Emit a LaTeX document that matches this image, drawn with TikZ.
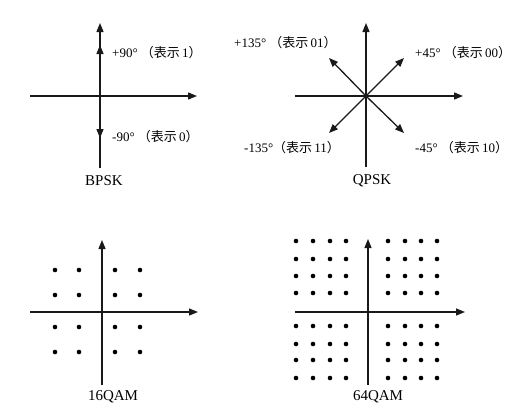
\documentclass[tikz,border=0pt]{standalone}
\usepackage{fontspec}
\setmainfont{Liberation Serif}
\newfontfamily\cjk{Noto Sans CJK SC}
\usetikzlibrary{arrows.meta}
\begin{document}
\begin{tikzpicture}[x=1pt,y=-1pt,
  axis/.style={line width=1.3pt,draw=black!90,-{Triangle[length=9pt,width=7pt]}},
  vec/.style={line width=1.3pt,draw=black!90,-{Triangle[length=9pt,width=7pt]}},
  plain/.style={line width=1.3pt,draw=black!90},
  ang/.style={font=\fontsize{13}{15}\selectfont,anchor=west,inner sep=0pt},
  ttl/.style={font=\fontsize{15}{17}\selectfont,inner sep=0pt},
  dot/.style={fill=black,circle,inner sep=0pt,minimum size=4.6pt}]
\useasboundingbox (0,0) rectangle (526,416);
\fill[white] (0,0) rectangle (526,416);

% ---------- BPSK ----------
\coordinate (bo) at (100,96);
\coordinate (bt) at (100,23);
\coordinate (bb) at (100,168);
\coordinate (bl) at (30,96);
\coordinate (br) at (197,96);
\coordinate (bup) at (100,45);
\coordinate (bdn) at (100,138);
\draw[plain] (bb) -- (bo);
\draw[axis] (bo) -- (bt);
\draw[axis] (bl) -- (br);
\draw[vec] (bo) -- (bup);
\draw[vec] (bo) -- (bdn);
\node[ang] (b1) at (112,53) {+90°\ {\cjk （表示}\,1{\cjk ）}};
\node[ang] (b0) at (112,137) {-90°\ {\cjk （表示}\,0{\cjk ）}};
\node[ttl] (bpsk) at (104,181) {BPSK};

% ---------- QPSK ----------
\coordinate (qo) at (366,96);
\coordinate (qt) at (366,23);
\coordinate (qb) at (366,167);
\coordinate (ql) at (295,96);
\coordinate (qr) at (463,96);
\coordinate (q45) at (404,58);
\coordinate (q135) at (329,58);
\coordinate (qm135) at (329,133);
\coordinate (qm45) at (404,133);
\draw[plain] (qb) -- (qo);
\draw[axis] (qo) -- (qt);
\draw[axis] (ql) -- (qr);
\draw[vec] (qo) -- (q45);
\draw[vec] (qo) -- (q135);
\draw[vec] (qo) -- (qm135);
\draw[vec] (qo) -- (qm45);
\node[ang] (l135) at (234,43) {+135°\ {\cjk （表示}\,01{\cjk ）}};
\node[ang] (l45) at (415,53) {+45°\ {\cjk （表示}\,00{\cjk ）}};
\node[ang] (lm135) at (244,148) {-135°{\cjk （表示}\,11{\cjk ）}};
\node[ang] (lm45) at (415,148) {-45°\ {\cjk （表示}\,10{\cjk ）}};
\node[ttl] (qpsk) at (372,181) {QPSK};

% ---------- 16QAM ----------
\coordinate (so) at (102,312);
\coordinate (st) at (102,240);
\coordinate (sb) at (102,385);
\coordinate (sl) at (30,312);
\coordinate (sr) at (198,312);
\draw[plain] (sb) -- (so);
\draw[axis] (so) -- (st);
\draw[axis] (sl) -- (sr);
\foreach \x in {55,79,115,140}
  \foreach \y in {270,295,327,352}
    \node[dot] at (\x,\y) {};
\node[ttl] (qam16) at (113,397) {16QAM};

% ---------- 64QAM ----------
\coordinate (xo) at (368,312);
\coordinate (xt) at (368,239);
\coordinate (xb) at (368,385);
\coordinate (xl) at (295,312);
\coordinate (xr) at (465,312);
\draw[plain] (xb) -- (xo);
\draw[axis] (xo) -- (xt);
\draw[axis] (xl) -- (xr);
\foreach \x in {296,313,330,346,388,405,421,437}
  \foreach \y in {241,259,276,293,326,344,360,378}
    \node[dot] at (\x,\y) {};
\node[ttl] (qam64) at (378,397) {64QAM};
\end{tikzpicture}
\end{document}
